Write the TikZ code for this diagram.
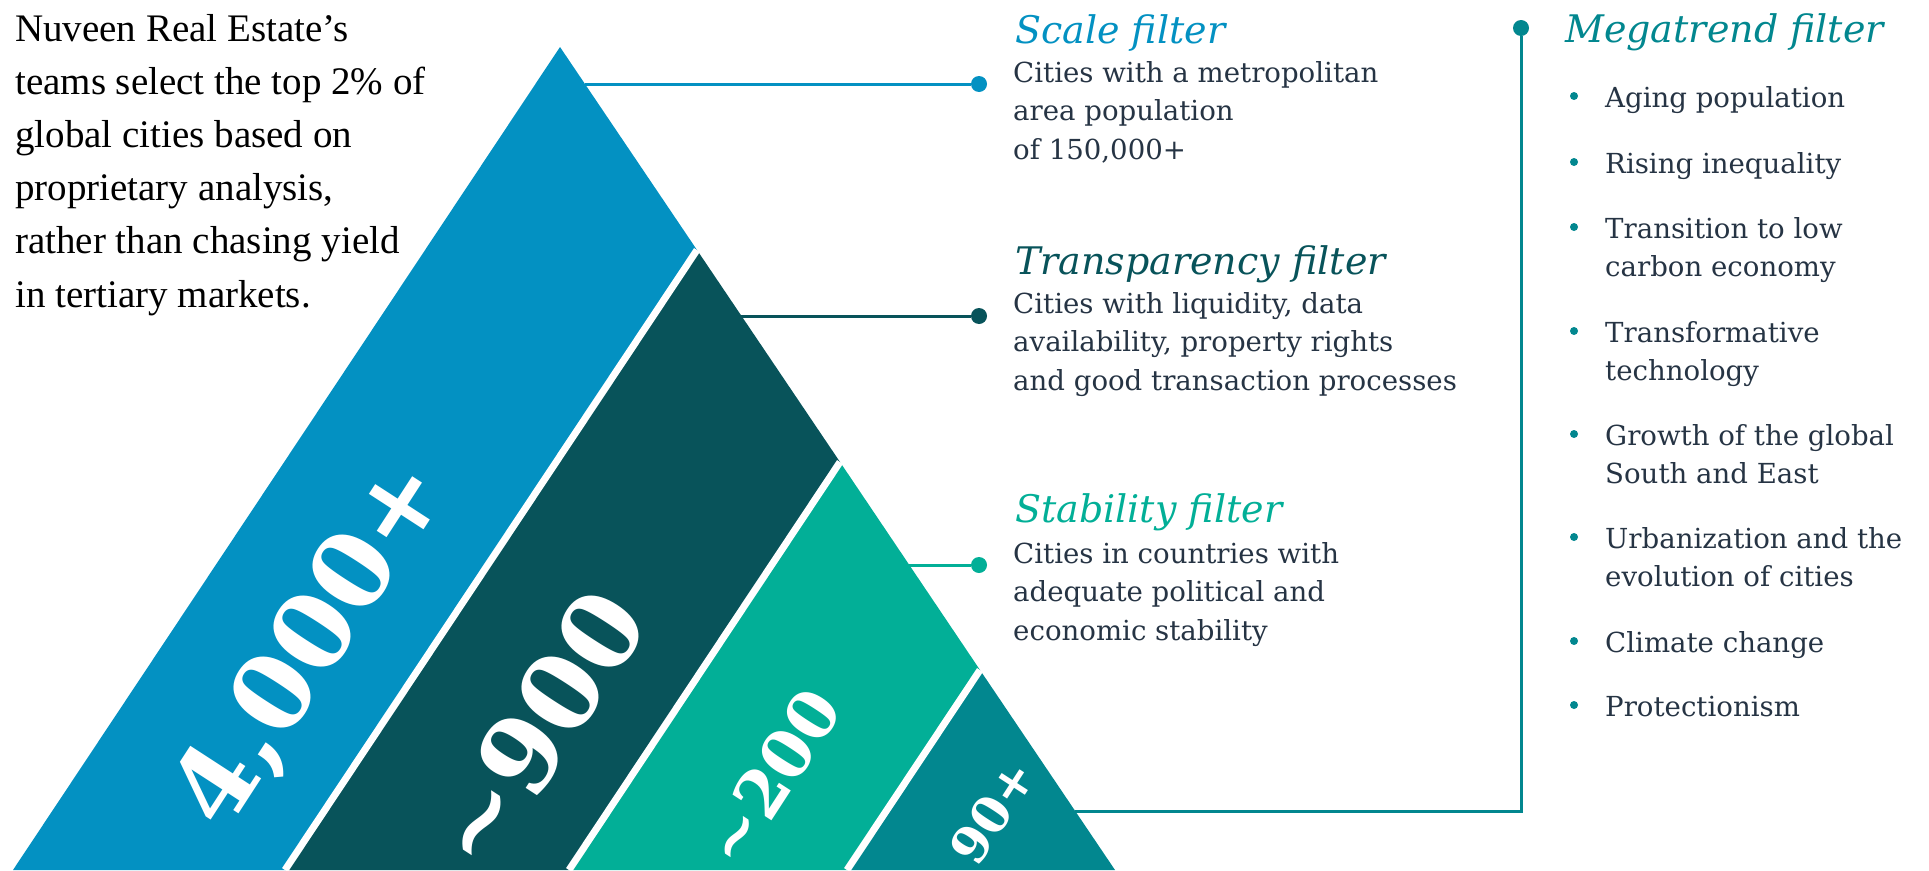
\documentclass[tikz,border=0pt]{standalone}
\usepackage{fontspec}
\setmainfont{DejaVu Serif}
\newfontfamily\introfont{Liberation Serif}
\usetikzlibrary{positioning}
\definecolor{scaleblue}{RGB}{3,145,194}
\definecolor{transdark}{RGB}{8,83,90}
\definecolor{stabgreen}{RGB}{2,175,151}
\definecolor{megateal}{RGB}{2,135,143}
\definecolor{bodytext}{RGB}{38,52,68}
\newcommand{\textlines}[1]{\begin{tabular}[t]{@{}l@{}}#1\end{tabular}}

\begin{document}
\begin{tikzpicture}[x=1pt,y=-1pt,
  intro/.style={anchor=base west,inner sep=0pt,font=\introfont\fontsize{39}{53.2}\selectfont},
  heading/.style={anchor=base west,inner sep=0pt,font=\fontsize{38}{46}\selectfont\itshape},
  body/.style={anchor=base west,inner sep=0pt,text=bodytext,font=\fontsize{27.6}{38.5}\selectfont},
  count/.style={inner sep=0pt,text=white,rotate=57,font=\fontsize{#1}{#1}\selectfont\bfseries},
  dot/.style={circle,fill,inner sep=0pt,minimum size=16pt},
  bullet/.style={circle,fill=megateal,inner sep=0pt,minimum size=8pt},
  link/.style={line width=3pt},
  cut/.style={white,line width=7pt}]
\useasboundingbox (0,0) rectangle (1929,870);

\node[intro] (intro) at (15,41) {\textlines{Nuveen Real Estate’s\\teams select the top 2\% of\\global cities based on\\proprietary analysis,\\rather than chasing yield\\in tertiary markets.}};

\coordinate (apex) at (560,47);
\coordinate (r1) at (697,250);
\coordinate (r2) at (840,462);
\coordinate (r3) at (980,670);
\coordinate (b0) at (13,870);
\coordinate (b1) at (285,870);
\coordinate (b2) at (569,870);
\coordinate (b3) at (847,870);
\coordinate (b4) at (1115,870);

\fill[scaleblue] (apex) -- (r1) -- (b1) -- (b0) -- cycle;
\fill[transdark] (r1) -- (r2) -- (b2) -- (b1) -- cycle;
\fill[stabgreen] (r2) -- (r3) -- (b3) -- (b2) -- cycle;
\fill[megateal] (r3) -- (b4) -- (b3) -- cycle;
\draw[cut] (r1) -- (b1);
\draw[cut] (r2) -- (b2);
\draw[cut] (r3) -- (b3);

\node[count=104] (cities4000) at (313,645) {4,000+};
\node[count=104] (cities900) at (537,729) {\textasciitilde900};
\node[count=66] (cities200) at (772,777) {\textasciitilde200};
\node[count=50] (cities90) at (993,812) {90+};

\coordinate (scaleedge) at (585,84);
\node[dot,scaleblue] (scaledot) at (979,84) {};
\draw[link,scaleblue] (scaleedge) -- (scaledot);
\node[heading,text=scaleblue] (scalehead) at (1015,43) {Scale filter};
\node[body] (scalebody) at (1013,82) {\textlines{Cities with a metropolitan\\area population\\of 150,000+}};

\coordinate (transedge) at (741,316);
\node[dot,transdark] (transdot) at (979,316) {};
\draw[link,transdark] (transedge) -- (transdot);
\node[heading,text=transdark] (transhead) at (1015,274) {Transparency filter};
\node[body] (transbody) at (1013,313) {\textlines{Cities with liquidity, data\\availability, property rights\\and good transaction processes}};

\coordinate (stabedge) at (909,565);
\node[dot,stabgreen] (stabdot) at (979,565) {};
\draw[link,stabgreen] (stabedge) -- (stabdot);
\node[heading,text=stabgreen] (stabhead) at (1015,522) {Stability filter};
\node[body] (stabbody) at (1013,563) {\textlines{Cities in countries with\\adequate political and\\economic stability}};

\node[dot,megateal] (megadot) at (1521,28) {};
\coordinate (megacorner) at (1521,811);
\coordinate (tipedge) at (1075,811);
\draw[link,megateal] (megadot) -- (megacorner) -- (tipedge);
\node[heading,text=megateal] (megahead) at (1565,42) {Megatrend filter};

\node[body] (trend1) at (1605,107) {Aging population};
\node[body] (trend2) at (1605,173) {Rising inequality};
\node[body] (trend3) at (1605,238) {\textlines{Transition to low\\carbon economy}};
\node[body] (trend4) at (1605,342) {\textlines{Transformative\\technology}};
\node[body] (trend5) at (1605,445) {\textlines{Growth of the global\\South and East}};
\node[body] (trend6) at (1605,548) {\textlines{Urbanization and the\\evolution of cities}};
\node[body] (trend7) at (1605,652) {Climate change};
\node[body] (trend8) at (1605,716) {Protectionism};

\node[bullet] (bullet1) at ([xshift=-31pt,yshift=11pt]trend1.base west) {};
\node[bullet] (bullet2) at ([xshift=-31pt,yshift=11pt]trend2.base west) {};
\node[bullet] (bullet3) at ([xshift=-31pt,yshift=11pt]trend3.base west) {};
\node[bullet] (bullet4) at ([xshift=-31pt,yshift=11pt]trend4.base west) {};
\node[bullet] (bullet5) at ([xshift=-31pt,yshift=11pt]trend5.base west) {};
\node[bullet] (bullet6) at ([xshift=-31pt,yshift=11pt]trend6.base west) {};
\node[bullet] (bullet7) at ([xshift=-31pt,yshift=11pt]trend7.base west) {};
\node[bullet] (bullet8) at ([xshift=-31pt,yshift=11pt]trend8.base west) {};

\end{tikzpicture}
\end{document}
